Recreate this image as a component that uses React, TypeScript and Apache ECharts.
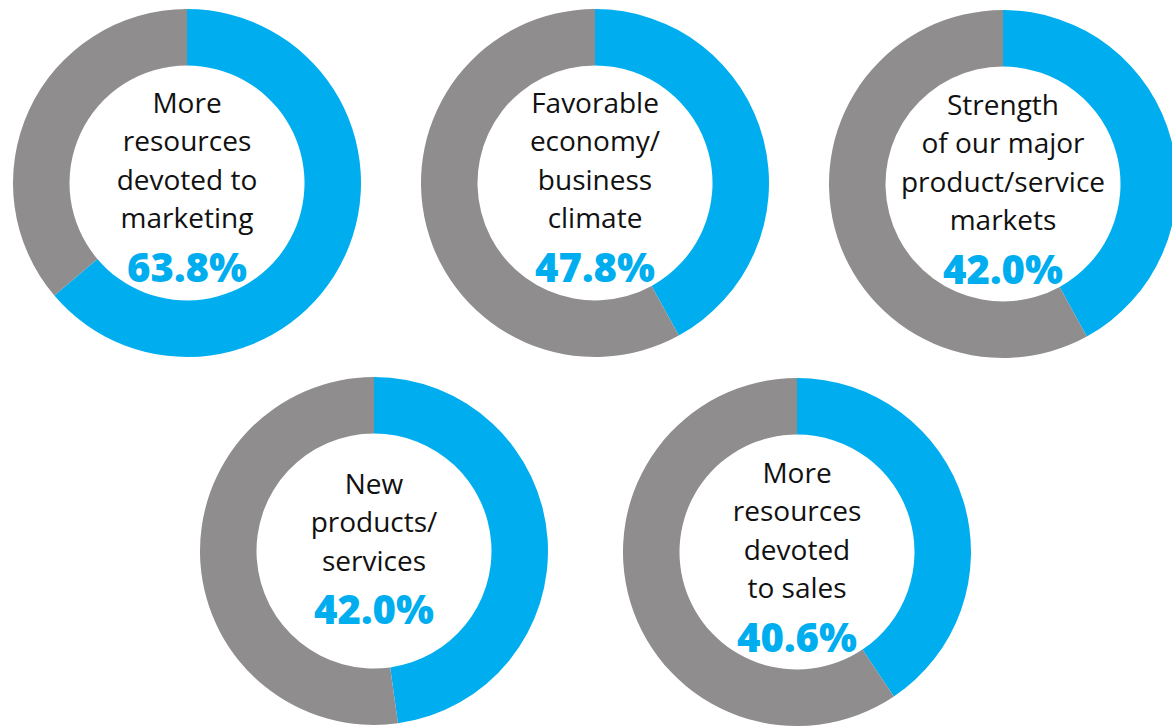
import React, { useEffect, useRef } from "react";
import * as echarts from "echarts";

// Label lines for each donut
const labels: string[][] = [
  ["More", "resources", "devoted to", "marketing"],
  ["Favorable", "economy/", "business", "climate"],
  ["Strength", "of our major", "product/service", "markets"],
  ["New", "products/", "services"],
  ["More", "resources", "devoted", "to sales"],
];
// Displayed percentages
const shownPct: string[] = ["63.8%", "47.8%", "42.0%", "42.0%", "40.6%"];
// Blue arc share as drawn in the picture
const arcValues: number[] = [63.8, 42.0, 42.0, 47.8, 40.6];

// Layout (pixels)
const centers: [number, number][] = [
  [187, 183],
  [595, 183],
  [1003, 184],
  [374, 551],
  [797, 552],
];
const labelOffsets: number[] = [6, 6, 7, 0, 7];

const BLUE = "#00AEEF";
const GRAY = "#8F8D8E";

export default function App() {
  const ref = useRef<HTMLDivElement>(null);
  useEffect(() => {
    if (!ref.current) return;
    const chart = echarts.init(ref.current, undefined, { renderer: "svg" });
    const series = labels.map((lines, i) => ({
      type: "pie",
      center: centers[i],
      radius: [117.5, 174],
      startAngle: 90,
      clockwise: true,
      silent: true,
      avoidLabelOverlap: false,
      labelLine: { show: false },
      emphasis: { disabled: true },
      itemStyle: { borderWidth: 0 },
      data: [
        {
          value: arcValues[i],
          name: lines.join(" "),
          itemStyle: { color: BLUE },
          label: {
            show: true,
            position: "center",
            offset: [0, labelOffsets[i]],
            formatter: () =>
              lines.map((l) => `{t|${l}}`).join("\n") + `\n{p|${shownPct[i]}}`,
            rich: {
              t: {
                fontFamily: "Open Sans",
                fontSize: 28,
                lineHeight: 38.5,
                color: "#111111",
                align: "center",
              },
              p: {
                fontFamily: "Open Sans",
                fontWeight: 800,
                fontSize: 40,
                lineHeight: 59.5,
                color: BLUE,
                align: "center",
              },
            },
          },
        },
        {
          value: 100 - arcValues[i],
          name: "rest",
          itemStyle: { color: GRAY },
          label: { show: false },
        },
      ],
    }));
    chart.setOption({
      animation: false,
      backgroundColor: "#ffffff",
      series,
    });
    return () => chart.dispose();
  }, []);
  return (
    <div
      ref={ref}
      style={{ position: "absolute", left: 0, top: 0, width: 1172, height: 726 }}
    />
  );
}
